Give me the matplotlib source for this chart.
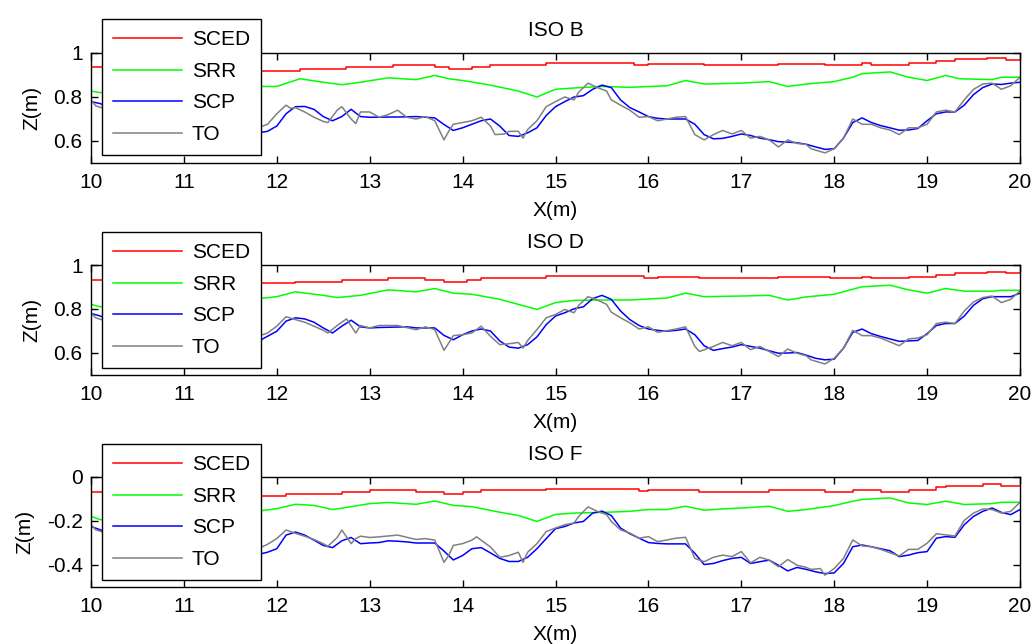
import matplotlib
matplotlib.use("Agg")
import matplotlib.pyplot as plt
from matplotlib.ticker import FuncFormatter

plt.rcParams['font.family'] = ['Liberation Sans', 'DejaVu Sans']

# ---------------- data ----------------
TITLES = ["ISO B", "ISO D", "ISO F"]
LABELS = ["SCED", "SRR", "SCP", "TO"]
X_TICKS = [10, 11, 12, 13, 14, 15, 16, 17, 18, 19, 20]
Y_TICKS = [[0.6, 0.8, 1.0], [0.6, 0.8, 1.0], [-0.4, -0.2, 0.0]]
Y_LIMS = [(0.5, 1.0), (0.5, 1.0), (-0.5, 0.0)]

# ---- ISO B ----
SCED_B = [(10.0, 0.938), (11.0, 0.930), (11.8, 0.919), (12.25, 0.927), (12.75, 0.935),
          (13.25, 0.944), (13.7, 0.938), (13.85, 0.929), (14.1, 0.937), (14.3, 0.946),
          (14.9, 0.954), (15.85, 0.946), (16.0, 0.952), (16.6, 0.944), (17.4, 0.952),
          (17.9, 0.944), (18.3, 0.954), (18.4, 0.946), (18.8, 0.954), (19.1, 0.965),
          (19.3, 0.971), (19.65, 0.979), (19.85, 0.970), (20.0, 0.970)]
SRR_B = [(10.0, 0.827), (10.1, 0.820), (11.0, 0.840), (11.8, 0.848), (12.0, 0.848),
         (12.25, 0.883), (12.5, 0.867), (12.7, 0.856), (12.9, 0.867), (13.2, 0.887),
         (13.5, 0.879), (13.7, 0.898), (13.85, 0.883), (14.0, 0.875), (14.3, 0.854),
         (14.6, 0.827), (14.8, 0.800), (15.0, 0.835), (15.2, 0.841), (15.5, 0.848),
         (15.8, 0.844), (16.2, 0.851), (16.4, 0.875), (16.6, 0.859), (17.0, 0.863),
         (17.3, 0.870), (17.5, 0.848), (17.7, 0.859), (18.0, 0.870), (18.2, 0.890),
         (18.3, 0.906), (18.6, 0.914), (18.8, 0.890), (19.0, 0.875), (19.2, 0.898),
         (19.35, 0.883), (19.7, 0.879), (19.8, 0.890), (20.0, 0.890)]
SCP_B = [(10.0, 0.779), (10.1, 0.770), (10.2, 0.750), (10.3, 0.730), (10.4, 0.720),
         (10.5, 0.700), (10.6, 0.690), (10.7, 0.700), (10.8, 0.710), (10.9, 0.700),
         (11.0, 0.680), (11.1, 0.670), (11.2, 0.660), (11.3, 0.660), (11.4, 0.650),
         (11.5, 0.650), (11.6, 0.640), (11.7, 0.640), (11.8, 0.637), (11.9, 0.644),
         (12.0, 0.668), (12.1, 0.724), (12.2, 0.756), (12.3, 0.757), (12.4, 0.744),
         (12.5, 0.711), (12.6, 0.692), (12.7, 0.711), (12.8, 0.744), (12.9, 0.711),
         (13.0, 0.708), (13.1, 0.708), (13.2, 0.709), (13.3, 0.709), (13.4, 0.710),
         (13.5, 0.711), (13.6, 0.708), (13.7, 0.705), (13.8, 0.675), (13.9, 0.648),
         (14.0, 0.660), (14.1, 0.676), (14.2, 0.692), (14.3, 0.700), (14.4, 0.668),
         (14.5, 0.625), (14.6, 0.621), (14.7, 0.637), (14.8, 0.660), (14.9, 0.716),
         (15.0, 0.756), (15.1, 0.779), (15.2, 0.800), (15.3, 0.806), (15.4, 0.835),
         (15.5, 0.854), (15.6, 0.843), (15.7, 0.787), (15.8, 0.752), (15.9, 0.732),
         (16.0, 0.711), (16.1, 0.703), (16.2, 0.700), (16.3, 0.700), (16.4, 0.700),
         (16.5, 0.676), (16.6, 0.629), (16.7, 0.610), (16.8, 0.612), (16.9, 0.621),
         (17.0, 0.632), (17.1, 0.625), (17.2, 0.613), (17.3, 0.606), (17.4, 0.597),
         (17.5, 0.595), (17.6, 0.592), (17.7, 0.585), (17.8, 0.573), (17.9, 0.562),
         (18.0, 0.565), (18.1, 0.613), (18.2, 0.684), (18.3, 0.705), (18.4, 0.684),
         (18.5, 0.670), (18.6, 0.660), (18.7, 0.649), (18.8, 0.650), (18.9, 0.657),
         (19.0, 0.692), (19.1, 0.724), (19.2, 0.732), (19.3, 0.732), (19.4, 0.763),
         (19.5, 0.811), (19.6, 0.843), (19.7, 0.859), (19.8, 0.857), (19.9, 0.863),
         (20.0, 0.867)]
TO_B = [(10.0, 0.787), (10.05, 0.760), (10.2, 0.740), (10.4, 0.720), (10.6, 0.700),
        (10.8, 0.710), (11.0, 0.690), (11.2, 0.680), (11.4, 0.660), (11.6, 0.650),
        (11.8, 0.660), (11.9, 0.676), (12.0, 0.724), (12.1, 0.763), (12.15, 0.748),
        (12.2, 0.752), (12.3, 0.732), (12.4, 0.708), (12.5, 0.689), (12.55, 0.684),
        (12.65, 0.740), (12.7, 0.756), (12.8, 0.700), (12.85, 0.679), (12.9, 0.732),
        (13.0, 0.732), (13.1, 0.708), (13.2, 0.720), (13.3, 0.740), (13.4, 0.708),
        (13.5, 0.700), (13.6, 0.711), (13.7, 0.692), (13.8, 0.605), (13.85, 0.644),
        (13.9, 0.676), (14.0, 0.684), (14.1, 0.692), (14.2, 0.708), (14.3, 0.668),
        (14.35, 0.629), (14.45, 0.632), (14.5, 0.644), (14.6, 0.644), (14.65, 0.613),
        (14.7, 0.652), (14.8, 0.692), (14.9, 0.756), (15.0, 0.779), (15.1, 0.800),
        (15.2, 0.787), (15.25, 0.822), (15.35, 0.863), (15.45, 0.843), (15.55, 0.827),
        (15.6, 0.787), (15.7, 0.763), (15.8, 0.740), (15.9, 0.708), (16.0, 0.711),
        (16.1, 0.692), (16.2, 0.700), (16.3, 0.708), (16.4, 0.711), (16.5, 0.629),
        (16.6, 0.605), (16.7, 0.629), (16.8, 0.648), (16.9, 0.632), (17.0, 0.648),
        (17.1, 0.613), (17.2, 0.621), (17.3, 0.605), (17.4, 0.573), (17.5, 0.605),
        (17.6, 0.589), (17.7, 0.584), (17.75, 0.565), (17.9, 0.546), (18.0, 0.565),
        (18.1, 0.613), (18.2, 0.700), (18.3, 0.676), (18.4, 0.676), (18.5, 0.660),
        (18.6, 0.650), (18.7, 0.629), (18.8, 0.660), (18.9, 0.660), (19.0, 0.676),
        (19.1, 0.732), (19.2, 0.740), (19.3, 0.732), (19.4, 0.787), (19.5, 0.835),
        (19.6, 0.859), (19.7, 0.863), (19.8, 0.835), (19.9, 0.851), (20.0, 0.890)]

# ---- ISO D ----
SCED_D = [(10.0, 0.931), (11.0, 0.925), (11.8, 0.916), (12.2, 0.925), (12.7, 0.931),
          (13.2, 0.939), (13.6, 0.931), (13.8, 0.924), (14.05, 0.931), (14.2, 0.940),
          (14.9, 0.948), (15.95, 0.939), (16.1, 0.945), (16.55, 0.939), (17.4, 0.946),
          (17.95, 0.939), (18.3, 0.946), (18.4, 0.939), (18.8, 0.946), (19.1, 0.954),
          (19.3, 0.962), (19.65, 0.969), (19.85, 0.963), (20.0, 0.963)]
SRR_D = [(10.0, 0.821), (10.1, 0.810), (11.0, 0.830), (11.8, 0.847), (12.0, 0.856),
         (12.2, 0.878), (12.5, 0.862), (12.65, 0.852), (12.9, 0.862), (13.2, 0.887),
         (13.5, 0.878), (13.7, 0.893), (13.9, 0.872), (14.1, 0.867), (14.4, 0.844),
         (14.6, 0.821), (14.8, 0.798), (15.0, 0.829), (15.2, 0.839), (15.5, 0.841),
         (15.8, 0.841), (16.2, 0.850), (16.4, 0.872), (16.6, 0.856), (17.0, 0.859),
         (17.3, 0.862), (17.5, 0.841), (17.7, 0.855), (18.0, 0.867), (18.2, 0.890),
         (18.3, 0.901), (18.6, 0.908), (18.8, 0.887), (19.0, 0.872), (19.2, 0.893),
         (19.4, 0.881), (19.7, 0.881), (19.8, 0.885), (20.0, 0.885)]
SCP_D = [(10.0, 0.780), (10.1, 0.768), (10.2, 0.750), (10.3, 0.730), (10.4, 0.720),
         (10.5, 0.700), (10.6, 0.690), (10.7, 0.700), (10.8, 0.710), (10.9, 0.700),
         (11.0, 0.680), (11.1, 0.670), (11.2, 0.660), (11.3, 0.660), (11.4, 0.650),
         (11.5, 0.650), (11.6, 0.650), (11.7, 0.650), (11.8, 0.653), (11.9, 0.676),
         (12.0, 0.699), (12.1, 0.745), (12.2, 0.760), (12.3, 0.755), (12.4, 0.740),
         (12.5, 0.714), (12.6, 0.691), (12.7, 0.722), (12.8, 0.749), (12.9, 0.719),
         (13.0, 0.714), (13.1, 0.716), (13.2, 0.717), (13.3, 0.718), (13.4, 0.719),
         (13.5, 0.714), (13.6, 0.714), (13.7, 0.714), (13.8, 0.680), (13.9, 0.660),
         (14.0, 0.683), (14.1, 0.700), (14.2, 0.709), (14.3, 0.700), (14.4, 0.655),
         (14.5, 0.627), (14.6, 0.622), (14.7, 0.638), (14.8, 0.673), (14.9, 0.729),
         (15.0, 0.768), (15.1, 0.783), (15.2, 0.801), (15.3, 0.810), (15.4, 0.847),
         (15.5, 0.862), (15.6, 0.844), (15.7, 0.791), (15.8, 0.752), (15.9, 0.725),
         (16.0, 0.709), (16.1, 0.703), (16.2, 0.699), (16.3, 0.703), (16.4, 0.709),
         (16.5, 0.683), (16.6, 0.633), (16.7, 0.612), (16.8, 0.620), (16.9, 0.627),
         (17.0, 0.638), (17.1, 0.630), (17.2, 0.622), (17.3, 0.610), (17.4, 0.599),
         (17.5, 0.600), (17.6, 0.602), (17.7, 0.590), (17.8, 0.576), (17.9, 0.569),
         (18.0, 0.572), (18.1, 0.622), (18.2, 0.694), (18.3, 0.709), (18.4, 0.688),
         (18.5, 0.675), (18.6, 0.664), (18.7, 0.653), (18.8, 0.655), (18.9, 0.657),
         (19.0, 0.688), (19.1, 0.725), (19.2, 0.734), (19.3, 0.734), (19.4, 0.768),
         (19.5, 0.817), (19.6, 0.847), (19.7, 0.856), (19.8, 0.856), (19.9, 0.856),
         (20.0, 0.872)]
TO_D = [(10.0, 0.783), (10.05, 0.760), (10.2, 0.740), (10.4, 0.720), (10.6, 0.700),
        (10.8, 0.710), (11.0, 0.690), (11.2, 0.680), (11.4, 0.660), (11.6, 0.650),
        (11.8, 0.676), (11.9, 0.691), (12.0, 0.722), (12.1, 0.765), (12.2, 0.752),
        (12.3, 0.740), (12.4, 0.722), (12.5, 0.703), (12.55, 0.691), (12.65, 0.725),
        (12.75, 0.755), (12.85, 0.691), (12.9, 0.725), (13.0, 0.714), (13.1, 0.725),
        (13.3, 0.725), (13.5, 0.706), (13.6, 0.719), (13.7, 0.706), (13.8, 0.612),
        (13.85, 0.645), (13.9, 0.679), (14.0, 0.683), (14.1, 0.691), (14.2, 0.722),
        (14.3, 0.676), (14.4, 0.638), (14.5, 0.642), (14.6, 0.648), (14.65, 0.622),
        (14.7, 0.657), (14.8, 0.706), (14.9, 0.760), (15.0, 0.775), (15.1, 0.798),
        (15.2, 0.783), (15.25, 0.817), (15.35, 0.856), (15.45, 0.841), (15.55, 0.821),
        (15.6, 0.786), (15.7, 0.760), (15.8, 0.737), (15.9, 0.709), (16.0, 0.719),
        (16.1, 0.694), (16.3, 0.709), (16.4, 0.719), (16.5, 0.630), (16.55, 0.607),
        (16.7, 0.630), (16.8, 0.648), (16.9, 0.633), (17.0, 0.648), (17.1, 0.615),
        (17.2, 0.630), (17.3, 0.607), (17.4, 0.584), (17.5, 0.618), (17.6, 0.599),
        (17.7, 0.587), (17.75, 0.569), (17.9, 0.550), (18.0, 0.576), (18.1, 0.622),
        (18.2, 0.703), (18.3, 0.679), (18.4, 0.679), (18.5, 0.668), (18.7, 0.633),
        (18.8, 0.664), (18.9, 0.668), (19.0, 0.683), (19.1, 0.734), (19.2, 0.740),
        (19.3, 0.734), (19.4, 0.791), (19.5, 0.832), (19.6, 0.852), (19.7, 0.859),
        (19.8, 0.829), (19.9, 0.844), (20.0, 0.882)]

# ---- ISO F ----
SCED_F = [(10.0, -0.067), (11.0, -0.075), (11.8, -0.085), (12.1, -0.079), (12.7, -0.070),
          (13.0, -0.061), (13.5, -0.067), (13.8, -0.078), (14.0, -0.067), (14.2, -0.061),
          (14.9, -0.056), (15.9, -0.064), (16.0, -0.057), (16.55, -0.066), (17.3, -0.058),
          (17.9, -0.066), (18.2, -0.058), (18.5, -0.066), (18.8, -0.058), (19.1, -0.047),
          (19.2, -0.041), (19.6, -0.034), (19.8, -0.041), (20.0, -0.041)]
SRR_F = [(10.0, -0.179), (10.1, -0.194), (11.0, -0.170), (11.8, -0.155), (12.0, -0.144),
         (12.2, -0.124), (12.4, -0.129), (12.6, -0.148), (12.8, -0.135), (13.0, -0.121),
         (13.2, -0.116), (13.5, -0.124), (13.7, -0.109), (13.9, -0.129), (14.1, -0.135),
         (14.4, -0.160), (14.6, -0.175), (14.8, -0.202), (15.0, -0.170), (15.2, -0.164),
         (15.5, -0.161), (15.8, -0.156), (16.0, -0.148), (16.2, -0.148), (16.4, -0.133),
         (16.6, -0.151), (16.8, -0.145), (17.0, -0.141), (17.3, -0.133), (17.5, -0.156),
         (17.7, -0.148), (18.0, -0.130), (18.2, -0.110), (18.3, -0.102), (18.6, -0.095),
         (18.8, -0.118), (19.0, -0.125), (19.2, -0.110), (19.4, -0.125), (19.7, -0.121),
         (19.8, -0.115), (20.0, -0.115)]
SCP_F = [(10.0, -0.225), (10.1, -0.240), (10.2, -0.260), (10.3, -0.280), (10.4, -0.290),
         (10.5, -0.300), (10.6, -0.310), (10.7, -0.300), (10.8, -0.290), (10.9, -0.300),
         (11.0, -0.320), (11.1, -0.330), (11.2, -0.340), (11.3, -0.340), (11.4, -0.350),
         (11.5, -0.350), (11.6, -0.360), (11.7, -0.360), (11.8, -0.352), (11.9, -0.342),
         (12.0, -0.326), (12.1, -0.264), (12.2, -0.250), (12.3, -0.264), (12.4, -0.287),
         (12.5, -0.311), (12.6, -0.321), (12.7, -0.290), (12.8, -0.275), (12.9, -0.303),
         (13.0, -0.300), (13.1, -0.298), (13.2, -0.290), (13.3, -0.292), (13.4, -0.295),
         (13.5, -0.300), (13.6, -0.300), (13.7, -0.300), (13.8, -0.337), (13.9, -0.377),
         (14.0, -0.357), (14.1, -0.326), (14.2, -0.321), (14.3, -0.345), (14.4, -0.370),
         (14.5, -0.384), (14.6, -0.384), (14.7, -0.365), (14.8, -0.326), (14.9, -0.280),
         (15.0, -0.235), (15.1, -0.225), (15.2, -0.209), (15.3, -0.202), (15.4, -0.164),
         (15.5, -0.155), (15.6, -0.175), (15.7, -0.232), (15.8, -0.258), (15.9, -0.278),
         (16.0, -0.298), (16.1, -0.302), (16.2, -0.304), (16.3, -0.304), (16.4, -0.304),
         (16.5, -0.347), (16.6, -0.398), (16.7, -0.393), (16.8, -0.380), (16.9, -0.370),
         (17.0, -0.365), (17.1, -0.393), (17.2, -0.385), (17.3, -0.378), (17.4, -0.401),
         (17.5, -0.427), (17.6, -0.411), (17.7, -0.420), (17.8, -0.431), (17.9, -0.439),
         (18.0, -0.436), (18.1, -0.393), (18.2, -0.317), (18.3, -0.309), (18.4, -0.317),
         (18.5, -0.326), (18.6, -0.335), (18.7, -0.362), (18.8, -0.355), (18.9, -0.344),
         (19.0, -0.339), (19.1, -0.278), (19.2, -0.271), (19.3, -0.274), (19.4, -0.217),
         (19.5, -0.179), (19.6, -0.156), (19.7, -0.141), (19.8, -0.161), (19.9, -0.171),
         (20.0, -0.148)]
TO_F = [(10.0, -0.215), (10.05, -0.240), (10.2, -0.260), (10.4, -0.280), (10.6, -0.300),
        (10.8, -0.290), (11.0, -0.310), (11.2, -0.320), (11.4, -0.340), (11.6, -0.350),
        (11.8, -0.326), (11.9, -0.306), (12.0, -0.280), (12.1, -0.241), (12.2, -0.256),
        (12.3, -0.269), (12.4, -0.284), (12.5, -0.303), (12.55, -0.315), (12.65, -0.275),
        (12.7, -0.241), (12.8, -0.303), (12.85, -0.280), (12.9, -0.269), (13.0, -0.275),
        (13.1, -0.272), (13.3, -0.264), (13.5, -0.284), (13.6, -0.280), (13.7, -0.287),
        (13.8, -0.388), (13.85, -0.357), (13.9, -0.311), (14.0, -0.303), (14.1, -0.287),
        (14.15, -0.272), (14.3, -0.318), (14.4, -0.365), (14.5, -0.357), (14.6, -0.342),
        (14.65, -0.388), (14.7, -0.342), (14.8, -0.303), (14.9, -0.248), (15.0, -0.232),
        (15.1, -0.217), (15.2, -0.209), (15.25, -0.179), (15.35, -0.136), (15.45, -0.156),
        (15.55, -0.171), (15.6, -0.202), (15.7, -0.240), (15.8, -0.255), (15.9, -0.278),
        (16.0, -0.271), (16.1, -0.294), (16.3, -0.278), (16.4, -0.274), (16.5, -0.370),
        (16.6, -0.385), (16.7, -0.365), (16.8, -0.355), (16.9, -0.362), (17.0, -0.339),
        (17.1, -0.390), (17.2, -0.365), (17.3, -0.378), (17.4, -0.408), (17.5, -0.375),
        (17.6, -0.401), (17.7, -0.411), (17.75, -0.420), (17.85, -0.416), (17.9, -0.446),
        (18.0, -0.416), (18.1, -0.370), (18.2, -0.286), (18.3, -0.313), (18.4, -0.317),
        (18.5, -0.329), (18.7, -0.359), (18.8, -0.329), (18.9, -0.329), (19.0, -0.301),
        (19.1, -0.258), (19.2, -0.263), (19.3, -0.268), (19.4, -0.197), (19.5, -0.164),
        (19.6, -0.145), (19.7, -0.148), (19.8, -0.164), (19.9, -0.156), (20.0, -0.115)]

PANELS = [
    (SCED_B, SRR_B, SCP_B, TO_B),
    (SCED_D, SRR_D, SCP_D, TO_D),
    (SCED_F, SRR_F, SCP_F, TO_F),
]

# ---------------- styling / layout ----------------
COLORS = ["#ff0000", "#00ff00", "#0000ff", "#808080"]
W, H = 1033, 644
FS = 15

fig = plt.figure(figsize=(W / 100, H / 100), dpi=100)
ax_tops_px = [53, 265, 477]
leg_tops_px = [19, 232, 444]
ax_left_px, ax_right_px, ax_h_px = 91, 1020, 110

for i, (series, title) in enumerate(zip(PANELS, TITLES)):
    top = ax_tops_px[i]
    ax = fig.add_axes([ax_left_px / W, 1 - (top + ax_h_px) / H,
                       (ax_right_px - ax_left_px) / W, ax_h_px / H])
    handles = []
    for j, (data, color, lab) in enumerate(zip(series, COLORS, LABELS)):
        xs = [p[0] for p in data]
        ys = [p[1] for p in data]
        if j == 0:
            h, = ax.plot(xs, ys, color=color, lw=1.1, drawstyle='steps-post', label=lab)
        else:
            h, = ax.plot(xs, ys, color=color, lw=1.1, label=lab)
        handles.append(h)
    ax.set_xlim(10, 20)
    ax.set_ylim(*Y_LIMS[i])
    ax.set_xticks(X_TICKS)
    ax.set_yticks(Y_TICKS[i])
    ax.yaxis.set_major_formatter(FuncFormatter(lambda v, p: '%g' % round(v, 3)))
    ax.tick_params(direction='in', length=5, width=1.0, top=True, right=True,
                   labelsize=FS, colors='black')
    ax.tick_params(axis='x', pad=7)
    ax.tick_params(axis='y', pad=6)
    for sp in ax.spines.values():
        sp.set_linewidth(1.0)
    ax.set_title(title, fontsize=FS, pad=12)
    ax.set_xlabel('X(m)', fontsize=FS, labelpad=7)
    ax.set_ylabel('Z(m)', fontsize=FS, labelpad=9)
    leg = ax.legend(handles=handles, loc='upper left',
                    bbox_to_anchor=(102 / W, 1 - leg_tops_px[i] / H),
                    bbox_transform=fig.transFigure, borderaxespad=0,
                    fontsize=FS, frameon=True, fancybox=False, shadow=False,
                    framealpha=1, edgecolor='black', handlelength=3.3,
                    handletextpad=0.45, labelspacing=0.6, borderpad=0.55)
    leg.get_frame().set_linewidth(1.0)

fig.savefig('out.png', dpi=100)
